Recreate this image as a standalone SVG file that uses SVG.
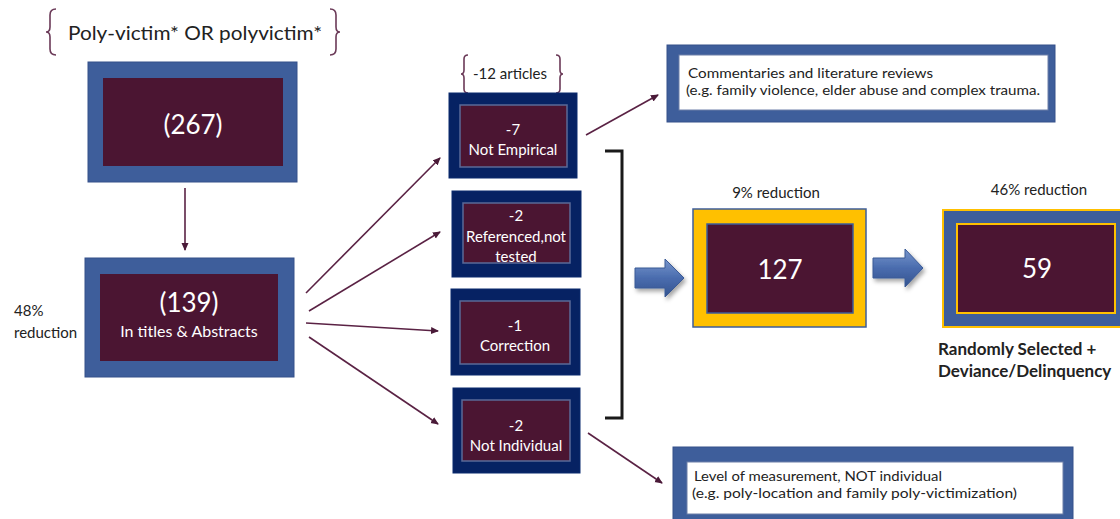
<svg xmlns="http://www.w3.org/2000/svg" width="1120" height="519" viewBox="0 0 1120 519">
<style>
text{font-family:Lato,"Open Sans","Liberation Sans",sans-serif}
.blue{fill:#3E5E9B;stroke:#34508a;stroke-width:1}
.navy{fill:#062263;stroke:#0a2a6e;stroke-width:1}
.mar{fill:#4B1532}
.mar2{fill:#4B1532;stroke:#5a6a98;stroke-width:1.5}
.wt{fill:#fff;text-anchor:middle}
.bk{fill:#222}
.br{fill:none;stroke:#6b3a58;stroke-width:1.6}
.ln{stroke:#5a2244;stroke-width:1.6;fill:none;marker-end:url(#ah)}
.barr{fill:url(#bg);stroke:#3a5a96;stroke-width:1;filter:url(#sh)}
</style>
<defs>
<marker id="ah" markerWidth="8" markerHeight="8" refX="7" refY="4" orient="auto" markerUnits="userSpaceOnUse"><path d="M0,0.5 L8,4 L0,7.5 Z" fill="#4a1a38"/></marker>
<linearGradient id="bg" x1="0" y1="0" x2="0" y2="1"><stop offset="0" stop-color="#7896cc"/><stop offset="0.5" stop-color="#4a6cae"/><stop offset="1" stop-color="#34548f"/></linearGradient>
<filter id="sh" x="-20%" y="-20%" width="150%" height="160%"><feDropShadow dx="2" dy="3" stdDeviation="2" flood-color="#000" flood-opacity="0.35"/></filter>
</defs>

<g id="title">
<path class="br" d="M56,9 Q50,9 50,15 V27 Q50,32 46,32 Q50,32 50,37 V49 Q50,55 56,55"/>
<path class="br" d="M330,9 Q336,9 336,15 V27 Q336,32 340,32 Q336,32 336,37 V49 Q336,55 330,55"/>
<text x="68" y="40" font-size="20" class="bk" textLength="254" lengthAdjust="spacingAndGlyphs">Poly-victim* OR polyvictim*</text>
</g>

<g id="n267">
<rect class="blue" x="88" y="62" width="209" height="120"/>
<rect class="mar" x="103" y="78" width="180" height="88"/>
<text class="wt" x="193" y="134" font-size="26">(267)</text>
</g>

<g id="n139">
<rect class="blue" x="85" y="258" width="209" height="119"/>
<rect class="mar" x="100" y="274" width="178" height="87"/>
<text class="wt" x="189" y="312" font-size="26">(139)</text>
<text class="wt" x="189" y="337" font-size="16">In titles &amp; Abstracts</text>
</g>

<g id="lbl48">
<text class="bk" x="14" y="316" font-size="15">48%</text>
<text class="bk" x="14" y="338" font-size="15">reduction</text>
</g>

<g id="articles">
<path class="br" d="M468,55 Q464,55 464,59 V70 Q464,74 461,74 Q464,74 464,78 V89 Q464,93 468,93"/>
<path class="br" d="M556,55 Q560,55 560,59 V70 Q560,74 563,74 Q560,74 560,78 V89 Q560,93 556,93"/>
<text class="bk" x="510" y="79" text-anchor="middle" font-size="15">-12 articles</text>
</g>

<g id="b1">
<rect class="navy" x="449" y="93" width="128" height="85"/>
<rect class="mar2" x="460" y="105" width="107" height="62"/>
<text class="wt" x="513" y="135" font-size="15">-7</text>
<text class="wt" x="513" y="155" font-size="15">Not Empirical</text>
</g>

<g id="b2">
<rect class="navy" x="452" y="191" width="129" height="86"/>
<rect class="mar2" x="463" y="203" width="107" height="60"/>
<text class="wt" x="516" y="221" font-size="15">-2</text>
<text class="wt" x="516" y="242" font-size="15" textLength="100" lengthAdjust="spacingAndGlyphs">Referenced,not</text>
<text class="wt" x="516" y="262" font-size="15">tested</text>
</g>

<g id="b3">
<rect class="navy" x="451" y="289" width="129" height="86"/>
<rect class="mar2" x="460" y="301" width="110" height="63"/>
<text class="wt" x="515" y="331" font-size="15">-1</text>
<text class="wt" x="515" y="351" font-size="15">Correction</text>
</g>

<g id="b4">
<rect class="navy" x="453" y="388" width="127" height="85"/>
<rect class="mar2" x="462" y="400" width="108" height="61"/>
<text class="wt" x="516" y="431" font-size="15">-2</text>
<text class="wt" x="516" y="451" font-size="15">Not Individual</text>
</g>

<g id="commentary">
<rect class="blue" x="667" y="45" width="388" height="77"/>
<rect x="679" y="55" width="369" height="55" fill="#fff" stroke="#6d7fa8" stroke-width="1"/>
<text class="bk" x="688" y="78" font-size="14" textLength="245" lengthAdjust="spacingAndGlyphs">Commentaries and literature reviews</text>
<text class="bk" x="686" y="95" font-size="14" textLength="354" lengthAdjust="spacingAndGlyphs">(e.g. family violence, elder abuse and complex trauma.</text>
</g>

<g id="level">
<rect class="blue" x="673" y="447" width="400" height="80"/>
<rect x="687" y="462" width="376" height="52" fill="#fff" stroke="#6d7fa8" stroke-width="1"/>
<text class="bk" x="694" y="481" font-size="14" textLength="248" lengthAdjust="spacingAndGlyphs">Level of measurement, NOT individual</text>
<text class="bk" x="692" y="498" font-size="14" textLength="325" lengthAdjust="spacingAndGlyphs">(e.g. poly-location and family poly-victimization)</text>
</g>

<g id="n127">
<text class="bk" x="776" y="198" text-anchor="middle" font-size="15">9% reduction</text>
<rect x="693" y="209" width="173" height="118" fill="#FFC000" stroke="#3E5E9B" stroke-width="1.5"/>
<rect x="707" y="224" width="146" height="89" fill="#4B1532" stroke="#3E5E9B" stroke-width="1.5"/>
<text class="wt" x="780" y="279" font-size="26">127</text>
</g>

<g id="n59">
<text class="bk" x="1039" y="195" text-anchor="middle" font-size="15">46% reduction</text>
<rect x="943" y="210" width="185" height="117" fill="#3E5E9B" stroke="#FFC000" stroke-width="2"/>
<rect x="957" y="224" width="158" height="89" fill="#4B1532" stroke="#FFC000" stroke-width="2"/>
<text class="wt" x="1037" y="278" font-size="26">59</text>
<text class="bk" x="938" y="355" font-size="17" font-weight="bold">Randomly Selected +</text>
<text class="bk" x="938" y="377" font-size="17" font-weight="bold">Deviance/Delinquency</text>
</g>

<g id="connectors">
<line class="ln" x1="185" y1="188" x2="185" y2="250"/>
<line class="ln" x1="306" y1="293" x2="440" y2="158"/>
<line class="ln" x1="309" y1="311" x2="440" y2="232"/>
<line class="ln" x1="306" y1="323" x2="438" y2="331"/>
<line class="ln" x1="309" y1="337" x2="438" y2="424"/>
<line class="ln" x1="586" y1="135" x2="658" y2="95"/>
<line class="ln" x1="588" y1="433" x2="662" y2="483"/>
<path d="M605,151 H622 V418 H605" fill="none" stroke="#1a1a1a" stroke-width="3"/>
<path class="barr" d="M635,268 H665 V259 L684,278 L665,297 V288 H635 Z"/>
<path class="barr" d="M873,258 H905 V249 L923,268 L905,287 V278 H873 Z"/>
</g>
</svg>
